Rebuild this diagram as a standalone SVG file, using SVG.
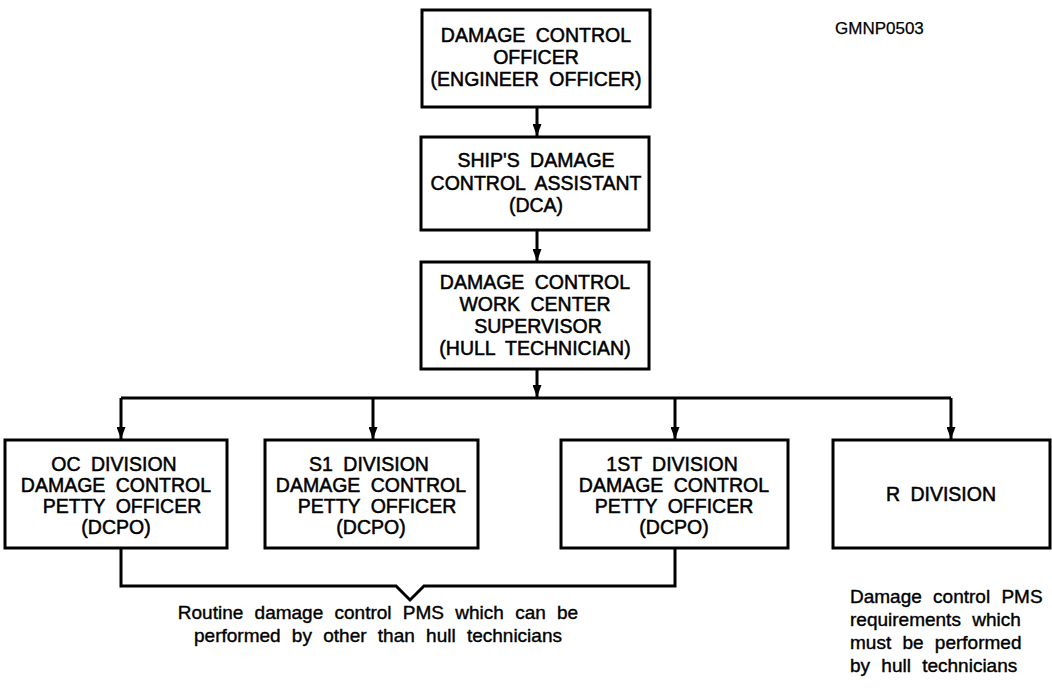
<svg xmlns="http://www.w3.org/2000/svg" width="1052" height="692" viewBox="0 0 1052 692">
<defs>
<marker id="arr" markerWidth="12" markerHeight="9" refX="12" refY="4.5" orient="auto" markerUnits="userSpaceOnUse" viewBox="0 0 12 9">
<path d="M0,0 L12,4.5 L0,9 Z" fill="#000"/>
</marker>
</defs>
<style>
.box{fill:#fff;stroke:#000;stroke-width:3}
.t{font-family:"Liberation Sans",Arial,sans-serif;font-size:19.5px;fill:#000;text-anchor:middle;word-spacing:5px;stroke:#000;stroke-width:0.5}
.n{font-family:"Liberation Sans",Arial,sans-serif;font-size:19px;fill:#000;word-spacing:6px;stroke:#000;stroke-width:0.4}
.g{font-family:"Liberation Sans",Arial,sans-serif;font-size:17px;fill:#000;stroke:#000;stroke-width:0.25}
.c{fill:none;stroke:#000;stroke-width:3}
.a{fill:none;stroke:#000;stroke-width:3;marker-end:url(#arr)}
</style>
<rect width="1052" height="692" fill="#fff"/>
<g id="connectors">
<line class="a" x1="537" y1="107" x2="537" y2="136"/>
<line class="a" x1="537" y1="230" x2="537" y2="261"/>
<line class="a" x1="537" y1="369" x2="537" y2="397"/>
<path class="c" d="M121,398 H951"/>
<line class="a" x1="121" y1="398" x2="121" y2="439"/>
<line class="a" x1="373" y1="398" x2="373" y2="439"/>
<line class="a" x1="675" y1="398" x2="675" y2="439"/>
<line class="a" x1="951" y1="398" x2="951" y2="439"/>
<path class="c" d="M121,548 V586 H396 L410,600 L424,586 H675 V548"/>
</g>
<g id="n-dco">
<rect class="box" x="422" y="10" width="228" height="97"/>
<text class="t" x="536" y="42">DAMAGE CONTROL</text>
<text class="t" x="536" y="64">OFFICER</text>
<text class="t" x="536" y="86">(ENGINEER OFFICER)</text>
</g>
<g id="n-dca">
<rect class="box" x="421" y="137" width="228" height="93"/>
<text class="t" x="536" y="167">SHIP'S DAMAGE</text>
<text class="t" x="536" y="190">CONTROL ASSISTANT</text>
<text class="t" x="536" y="212">(DCA)</text>
</g>
<g id="n-wcs">
<rect class="box" x="421" y="262" width="228" height="107"/>
<text class="t" x="535" y="289">DAMAGE CONTROL</text>
<text class="t" x="535" y="311">WORK CENTER</text>
<text class="t" x="538" y="333">SUPERVISOR</text>
<text class="t" x="535" y="355">(HULL TECHNICIAN)</text>
</g>
<g id="n-oc">
<rect class="box" x="5" y="440" width="222" height="108"/>
<text class="t" x="114" y="471">OC DIVISION</text>
<text class="t" x="116" y="492">DAMAGE CONTROL</text>
<text class="t" x="122" y="513">PETTY OFFICER</text>
<text class="t" x="116" y="534">(DCPO)</text>
</g>
<g id="n-s1">
<rect class="box" x="265" y="440" width="213" height="108"/>
<text class="t" x="369" y="471">S1 DIVISION</text>
<text class="t" x="371" y="492">DAMAGE CONTROL</text>
<text class="t" x="377" y="513">PETTY OFFICER</text>
<text class="t" x="371" y="534">(DCPO)</text>
</g>
<g id="n-1st">
<rect class="box" x="561" y="440" width="227" height="108"/>
<text class="t" x="672" y="471">1ST DIVISION</text>
<text class="t" x="674" y="492">DAMAGE CONTROL</text>
<text class="t" x="674" y="513">PETTY OFFICER</text>
<text class="t" x="674" y="534">(DCPO)</text>
</g>
<g id="n-r">
<rect class="box" x="833" y="440" width="217" height="108"/>
<text class="t" x="941" y="501">R DIVISION</text>
</g>
<g id="notes">
<text class="g" x="835" y="34">GMNP0503</text>
<text class="n" x="378" y="619" text-anchor="middle">Routine damage control PMS which can be</text>
<text class="n" x="378" y="642" text-anchor="middle">performed by other than hull technicians</text>
<text class="n" x="850" y="603">Damage control PMS</text>
<text class="n" x="850" y="626">requirements which</text>
<text class="n" x="850" y="649">must be performed</text>
<text class="n" x="850" y="672">by hull technicians</text>
</g>
</svg>
